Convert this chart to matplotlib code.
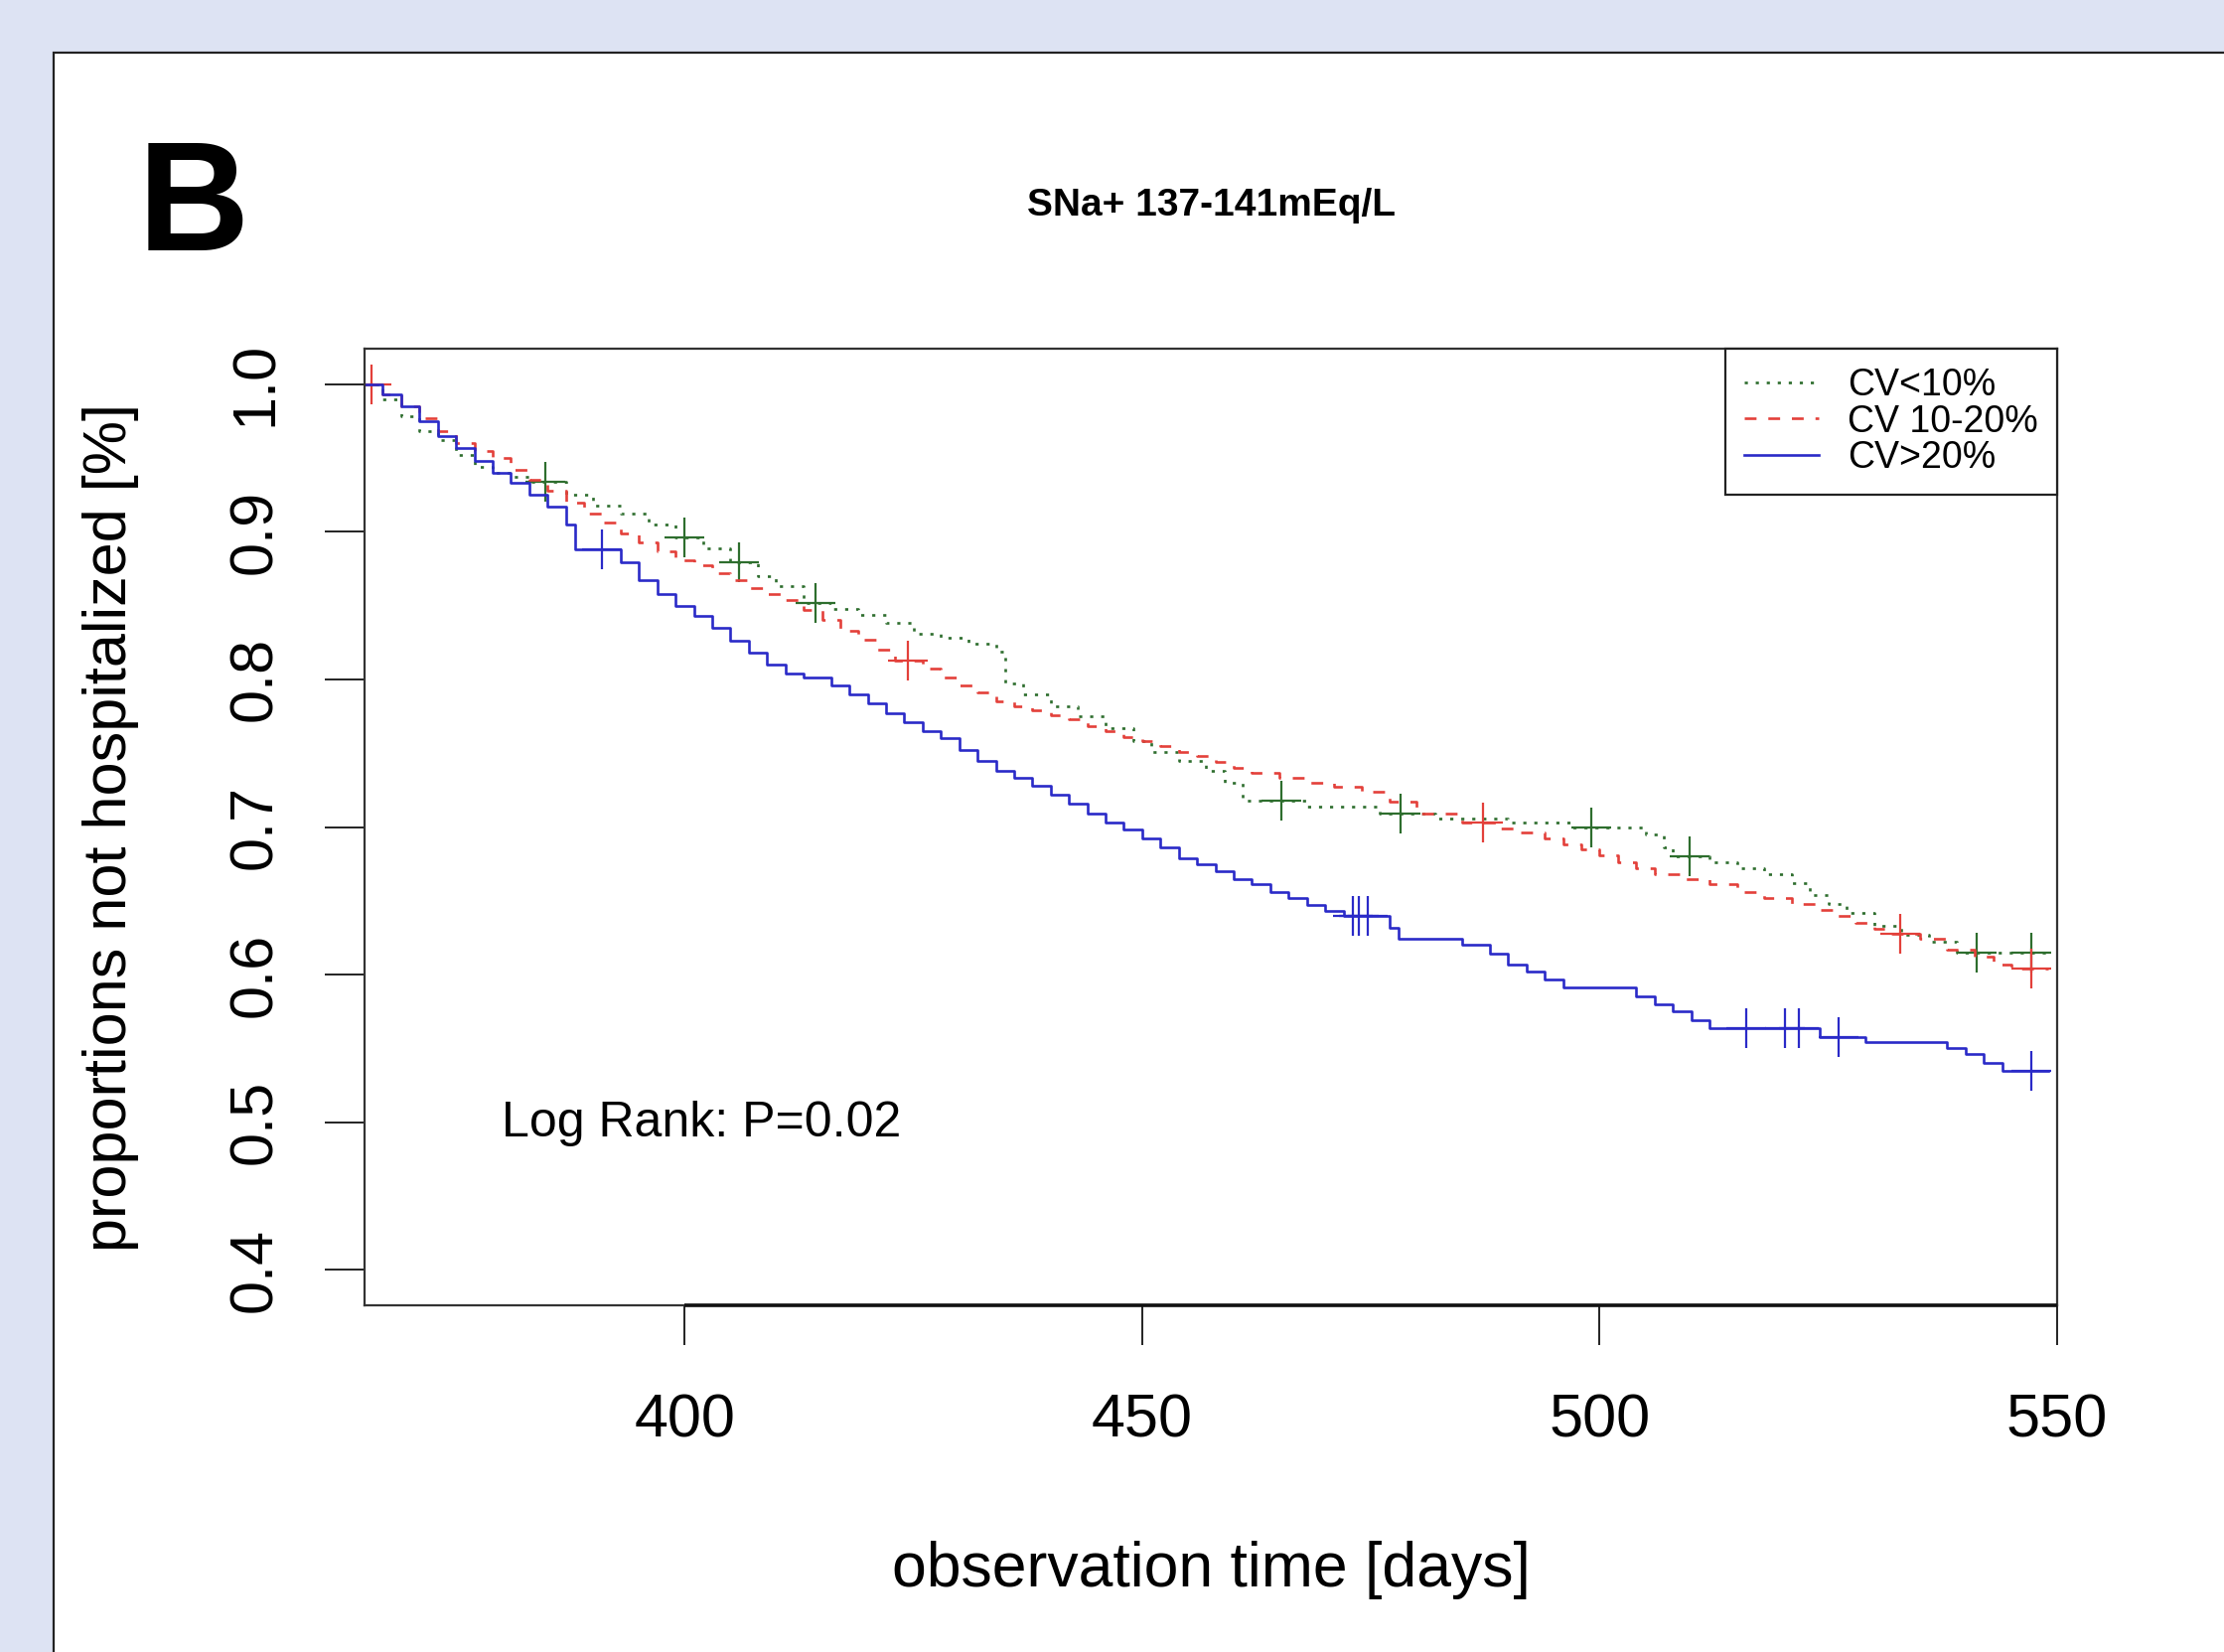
import numpy as np
import matplotlib
matplotlib.use('Agg')
import matplotlib.pyplot as plt
from matplotlib.patches import Rectangle
from matplotlib.lines import Line2D

plt.rcParams['font.family'] = ['Liberation Sans', 'DejaVu Sans']

W, H = 2239, 1663

# Kaplan-Meier curves (time in days, survival proportion)
t_low = [365, 367, 369, 371, 373, 375, 377, 379, 381, 383, 387, 390, 393, 396, 399,
         402, 405, 408, 410, 413, 416, 419, 422, 425, 428, 431, 434, 435, 437, 440,
         443, 446, 449, 451, 454, 457, 459, 461, 468, 476, 482, 490, 497, 505, 507,
         508, 512, 515, 518, 521, 523, 525, 527, 530, 533, 536, 539, 549]
s_low = [1.0, 0.990, 0.978, 0.968, 0.962, 0.952, 0.944, 0.940, 0.937, 0.934, 0.925,
         0.918, 0.912, 0.905, 0.896, 0.889, 0.879, 0.870, 0.863, 0.852, 0.848, 0.844,
         0.838, 0.831, 0.828, 0.824, 0.819, 0.797, 0.790, 0.782, 0.775, 0.767, 0.758,
         0.751, 0.745, 0.738, 0.730, 0.718, 0.714, 0.709, 0.706, 0.703, 0.700, 0.695,
         0.686, 0.680, 0.676, 0.672, 0.668, 0.662, 0.654, 0.648, 0.642, 0.633, 0.627,
         0.622, 0.615, 0.615]
cens_low = [384.8, 400.0, 405.9, 414.3, 465.2, 478.2, 499.1, 509.8, 541.2, 547.2]

t_mid = [365, 367, 369, 371, 373, 375, 377, 379, 381, 383, 385, 387, 389, 391, 393,
         395, 397, 399, 401, 403, 405, 407, 409, 411, 413, 415, 417, 419, 421, 423,
         426, 428, 430, 432, 434, 436, 438, 440, 442, 444, 446, 448, 450, 452, 454,
         456, 458, 460, 462, 465, 468, 471, 474, 477, 480, 485, 489, 491, 494, 496,
         498, 500, 502, 504, 506, 509, 512, 515, 518, 521, 524, 526, 528, 530, 532,
         535, 538, 541, 543, 545, 549]
s_mid = [1.0, 0.993, 0.985, 0.977, 0.968, 0.960, 0.955, 0.950, 0.942, 0.935, 0.928,
         0.920, 0.912, 0.906, 0.899, 0.893, 0.887, 0.881, 0.877, 0.872, 0.867, 0.862,
         0.858, 0.854, 0.847, 0.840, 0.833, 0.827, 0.820, 0.813, 0.807, 0.801, 0.796,
         0.791, 0.785, 0.782, 0.779, 0.776, 0.773, 0.768, 0.765, 0.761, 0.758, 0.755,
         0.751, 0.748, 0.744, 0.740, 0.737, 0.733, 0.730, 0.727, 0.724, 0.717, 0.709,
         0.703, 0.699, 0.696, 0.692, 0.688, 0.685, 0.681, 0.676, 0.672, 0.668, 0.665,
         0.661, 0.656, 0.652, 0.648, 0.644, 0.640, 0.635, 0.631, 0.628, 0.624, 0.617,
         0.612, 0.607, 0.604, 0.604]
cens_mid = [365.8, 424.4, 487.2, 532.9, 547.2]

t_high = [365, 367, 369, 371, 373, 375, 377, 379, 381, 383, 385, 387, 388, 393, 395,
          397, 399, 401, 403, 405, 407, 409, 411, 413, 416, 418, 420, 422, 424, 426,
          428, 430, 432, 434, 436, 438, 440, 442, 444, 446, 448, 450, 452, 454, 456,
          458, 460, 462, 464, 466, 468, 470, 472, 477, 478, 485, 488, 490, 492, 494,
          496, 504, 506, 508, 510, 512, 524, 529, 538, 540, 542, 544, 549]
s_high = [1.0, 0.993, 0.985, 0.975, 0.965, 0.957, 0.948, 0.940, 0.933, 0.925, 0.917,
          0.905, 0.888, 0.879, 0.867, 0.858, 0.850, 0.843, 0.835, 0.826, 0.818, 0.810,
          0.804, 0.801, 0.796, 0.790, 0.784, 0.777, 0.771, 0.765, 0.760, 0.752, 0.745,
          0.738, 0.733, 0.728, 0.722, 0.716, 0.709, 0.703, 0.698, 0.692, 0.686, 0.679,
          0.675, 0.670, 0.665, 0.661, 0.656, 0.652, 0.647, 0.643, 0.640, 0.632, 0.624,
          0.620, 0.614, 0.607, 0.602, 0.597, 0.591, 0.585, 0.580, 0.575, 0.569, 0.564,
          0.558, 0.554, 0.550, 0.546, 0.540, 0.535, 0.535]
cens_high = [391.0, 473.0, 473.7, 474.7, 516.0, 520.2, 521.8, 526.1, 547.2]

labels = ['CV<10%', 'CV 10-20%', 'CV>20%']
colors = ['#2e6e2e', '#e3403a', '#2a2ac8']
styles = [(0, (1.2, 3.0)), (0, (4.5, 4.5)), '-']
xticks = [400, 450, 500, 550]
yticks = [0.4, 0.5, 0.6, 0.7, 0.8, 0.9, 1.0]

fig = plt.figure(figsize=(W / 100, H / 100), dpi=100)
fig.patch.set_facecolor('#dde3f3')
panel = Rectangle((54 / W, -0.02), 1.1, 1 - 53 / H + 0.02, transform=fig.transFigure,
                  facecolor='white', edgecolor='#222222', lw=1.6, zorder=-10)
fig.patches.append(panel)

ax = fig.add_axes([367 / W, 1 - 1314 / H, (2071 - 367) / W, (1314 - 351) / H])
ax.set_zorder(1)
ax.set_facecolor('white')

groups = [(t_low, s_low, cens_low), (t_mid, s_mid, cens_mid), (t_high, s_high, cens_high)]
for (t, s, c), col, ls, lab in zip(groups, colors, styles, labels):
    t = np.array(t)
    s = np.array(s)
    ax.step(t, s, where='post', color=col, linestyle=ls, lw=1.9, label=lab)
    idx = np.searchsorted(t, c, side='right') - 1
    ax.plot(c, s[idx], linestyle='none', marker='+', markersize=29,
            markeredgewidth=1.6, color=col)

ax.set_xlim(365, 550)
ax.set_ylim(0.376, 1.024)
ax.set_xticks(xticks)
ax.set_yticks(yticks)
ax.set_yticklabels([f'{v:.1f}' for v in yticks])
ax.tick_params(axis='both', direction='out', length=29, width=1.4, labelsize=44,
               color='#222222')
ax.tick_params(axis='x', pad=35)
ax.tick_params(axis='y', pad=29)
for lbl in ax.get_yticklabels():
    lbl.set_rotation(90)
    lbl.set_va('center')
for sp in ax.spines.values():
    sp.set_color('#333333')
    sp.set_linewidth(1.6)
# R draws its axis line only between the first and last tick
ax.hlines(0.376, xticks[0], xticks[-1], color='#111111', lw=2.6, clip_on=False, zorder=5)

ax.set_xlabel('observation time [days]', fontsize=45)
ax.xaxis.set_label_coords(0.5, (66 - 349) / 963)
ax.xaxis.label.set_va('baseline')
ax.set_ylabel('proportions not hospitalized [%]', fontsize=44)
ax.yaxis.set_label_coords((112 - 367) / 1704, 0.5)
ax.yaxis.label.set_va('center')

ax.text(380, 0.499, 'Log Rank: P=0.02', fontsize=36, ha='left', va='center')

handles = [Line2D([0], [0], color=col, linestyle=ls, lw=1.9) for col, ls in zip(colors, styles)]
leg = ax.legend(handles, labels, loc='upper right', borderaxespad=0, fancybox=False,
                edgecolor='#222222', framealpha=1, fontsize=27, handlelength=2.0,
                handletextpad=0.8, labelspacing=0.02, borderpad=0.5)
leg.get_frame().set_linewidth(1.6)

fig.text(1219 / W, 1 - 217 / H, 'SNa+ 137-141mEq/L', fontsize=28, fontweight='bold',
         ha='center', va='baseline')
fig.text(139 / W, 1 - 252 / H, 'B', fontsize=112, fontweight='bold', ha='left',
         va='baseline')

fig.savefig('out.png', dpi=100, facecolor=fig.get_facecolor())
